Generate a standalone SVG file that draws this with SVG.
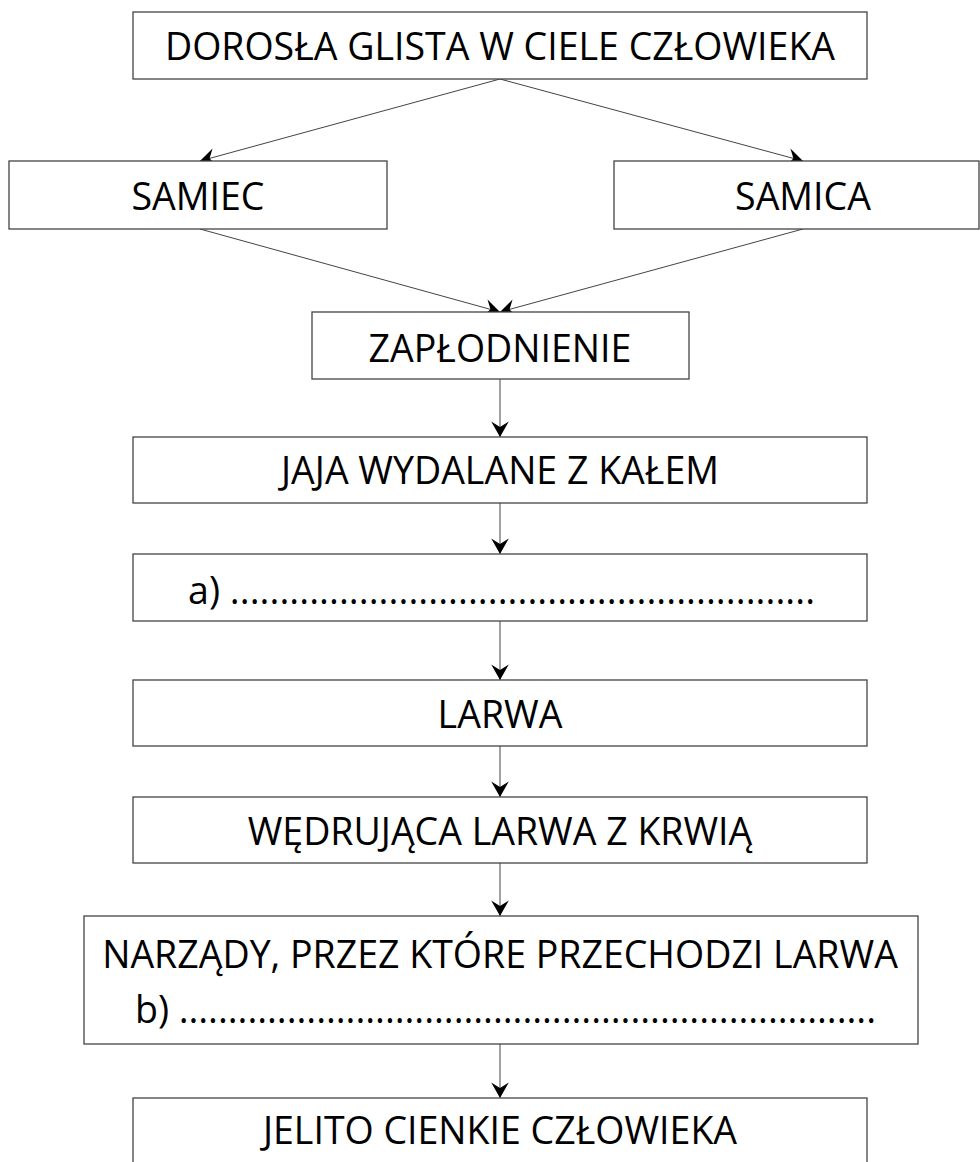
<svg xmlns="http://www.w3.org/2000/svg" width="980" height="1162" viewBox="0 0 980 1162">
<style>
.box{fill:#fff;stroke:#444;stroke-width:1.3}
.t{font-family:"Open Sans","Noto Sans",sans-serif;font-size:37.5px;fill:#000;text-anchor:middle}
.tl{font-family:"Open Sans","Noto Sans",sans-serif;font-size:37.5px;fill:#000}
.c{stroke:#444;stroke-width:1;fill:none;marker-end:url(#ah)}
</style>
<defs>
<marker id="ah" markerUnits="userSpaceOnUse" markerWidth="22" markerHeight="22" viewBox="-16 -10 17 20" refX="0" refY="0" orient="auto">
<path d="M0,0 L-14,-8 L-9,0 L-14,8 Z" fill="#000"/>
</marker>
</defs>
<rect width="980" height="1162" fill="#fff"/>
<g id="connectors">
<line class="c" x1="500" y1="79" x2="200" y2="161"/>
<line class="c" x1="500" y1="79" x2="803" y2="161"/>
<line class="c" x1="200" y1="229" x2="500" y2="312"/>
<line class="c" x1="803" y1="229" x2="500" y2="312"/>
<line class="c" x1="500" y1="379" x2="500" y2="437"/>
<line class="c" x1="500" y1="503" x2="500" y2="554"/>
<line class="c" x1="500" y1="621" x2="500" y2="680"/>
<line class="c" x1="500" y1="746" x2="500" y2="797"/>
<line class="c" x1="500" y1="863" x2="500" y2="916"/>
<line class="c" x1="500" y1="1044" x2="500" y2="1098"/>
</g>
<g id="n1"><rect class="box" x="133" y="12" width="734" height="67"/><text class="t" x="500" y="60">DOROSŁA GLISTA W CIELE CZŁOWIEKA</text></g>
<g id="n2"><rect class="box" x="9" y="161" width="378" height="68"/><text class="t" x="198" y="210">SAMIEC</text></g>
<g id="n3"><rect class="box" x="614" y="161" width="365" height="68"/><text class="t" x="803" y="210">SAMICA</text></g>
<g id="n4"><rect class="box" x="312" y="312" width="377" height="67"/><text class="t" x="500" y="362">ZAPŁODNIENIE</text></g>
<g id="n5"><rect class="box" x="133" y="437" width="734" height="66"/><text class="t" x="500" y="484">JAJA WYDALANE Z KAŁEM</text></g>
<g id="n6"><rect class="box" x="133" y="554" width="734" height="67"/><text class="tl" x="188" y="604" textLength="627" lengthAdjust="spacing">a) ...........................................................</text></g>
<g id="n7"><rect class="box" x="133" y="680" width="734" height="66"/><text class="t" x="500" y="728">LARWA</text></g>
<g id="n8"><rect class="box" x="133" y="797" width="734" height="66"/><text class="t" x="500" y="845">WĘDRUJĄCA LARWA Z KRWIĄ</text></g>
<g id="n9"><rect class="box" x="84" y="916" width="834" height="128"/><text class="t" x="500" y="968">NARZĄDY, PRZEZ KTÓRE PRZECHODZI LARWA</text><text class="tl" x="135" y="1023" textLength="741" lengthAdjust="spacing">b) .......................................................................</text></g>
<g id="n10"><rect class="box" x="133" y="1098" width="734" height="80"/><text class="t" x="500" y="1144">JELITO CIENKIE CZŁOWIEKA</text></g>
</svg>
